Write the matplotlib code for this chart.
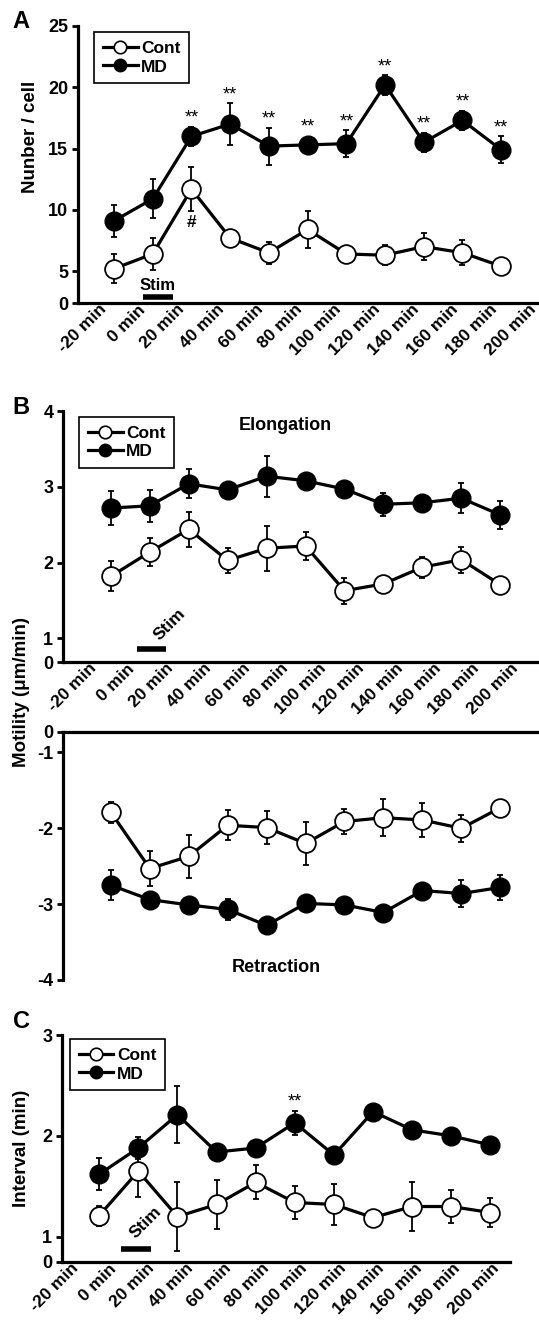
import numpy as np
import matplotlib
matplotlib.use("Agg")
import matplotlib.pyplot as plt
from matplotlib.lines import Line2D

plt.rcParams['font.family'] = ['Liberation Sans', 'DejaVu Sans']
plt.rcParams['font.weight'] = 'bold'

# x tick labels shared by all panels
time_labels = ["-20 min", "0 min", "20 min", "40 min", "60 min", "80 min",
               "100 min", "120 min", "140 min", "160 min", "180 min", "200 min"]

# Panel A: number / cell
a_cont = [5.2, 6.4, 11.7, 7.7, 6.5, 8.4, 6.4, 6.3, 7.0, 6.5, 5.4]
a_cont_err = [1.2, 1.3, 1.8, 0.3, 0.9, 1.5, 0.3, 0.8, 1.1, 1.0, 0.3]
a_md = [9.1, 10.9, 16.0, 17.0, 15.2, 15.3, 15.4, 20.2, 15.5, 17.3, 14.9]
a_md_err = [1.3, 1.6, 0.8, 1.7, 1.5, 0.3, 1.1, 0.8, 0.8, 0.8, 1.1]
a_stars = [2, 3, 4, 5, 6, 7, 8, 9, 10]

# Panel B: elongation (top) and retraction (bottom), um/min
b_el_cont = [1.82, 2.14, 2.44, 2.03, 2.19, 2.22, 1.63, 1.72, 1.94, 2.04, 1.71]
b_el_cont_err = [0.20, 0.19, 0.23, 0.16, 0.30, 0.19, 0.17, 0.05, 0.14, 0.17, 0.05]
b_el_md = [2.72, 2.75, 3.04, 2.96, 3.14, 3.08, 2.97, 2.77, 2.79, 2.85, 2.63]
b_el_md_err = [0.22, 0.21, 0.19, 0.10, 0.27, 0.05, 0.05, 0.15, 0.05, 0.20, 0.18]

b_re_cont = [-1.79, -2.53, -2.37, -1.96, -1.99, -2.20, -1.91, -1.86, -1.89, -2.00, -1.73]
b_re_cont_err = [0.14, 0.23, 0.28, 0.20, 0.22, 0.28, 0.17, 0.24, 0.23, 0.18, 0.05]
b_re_md = [-2.75, -2.94, -3.01, -3.07, -3.28, -2.99, -3.01, -3.11, -2.82, -2.86, -2.78]
b_re_md_err = [0.20, 0.05, 0.10, 0.14, 0.05, 0.05, 0.05, 0.05, 0.05, 0.18, 0.16]

# Panel C: interval (min)
c_cont = [1.21, 1.65, 1.20, 1.32, 1.54, 1.34, 1.32, 1.19, 1.30, 1.30, 1.24]
c_cont_err = [0.10, 0.26, 0.34, 0.24, 0.17, 0.16, 0.20, 0.05, 0.24, 0.16, 0.14]
c_md = [1.62, 1.88, 2.21, 1.84, 1.88, 2.13, 1.81, 2.24, 2.06, 2.00, 1.91]
c_md_err = [0.16, 0.11, 0.28, 0.03, 0.03, 0.12, 0.05, 0.05, 0.05, 0.07, 0.07]
c_stars = [5]

W, H = 539, 1325
fig = plt.figure(figsize=(W / 100, H / 100), dpi=100)


def px_axes(left, top, right, bottom):
    return fig.add_axes([left / W, 1 - bottom / H, (right - left) / W, (bottom - top) / H])


def draw_series(ax, cont, cont_err, md, md_err):
    x = np.arange(len(cont))
    for y, e in ((md, md_err), (cont, cont_err)):
        ax.errorbar(x, y, yerr=e, fmt='none', ecolor='black', elinewidth=1.3,
                    capsize=2.2, capthick=1.3, zorder=2)
    ax.plot(x, md, '-o', color='black', lw=2.3, ms=13.5, mfc='black',
            mec='black', zorder=3)
    ax.plot(x, cont, '-o', color='black', lw=2.3, ms=13.5, mfc='white',
            mec='black', mew=1.3, zorder=4)


def style_axes(ax, ylim, ticks, ticklabels, xlim):
    ax.set_xlim(*xlim)
    ax.set_ylim(*ylim)
    ax.set_yticks(ticks)
    ax.set_yticklabels(ticklabels)
    for s in ['top', 'right']:
        ax.spines[s].set_visible(False)
    for s in ['left', 'bottom']:
        ax.spines[s].set_linewidth(2.3)
    ax.tick_params(axis='y', direction='out', length=4, width=2, labelsize=13, pad=3)
    ax.tick_params(axis='x', length=0, labelsize=12.5, pad=3)
    for t in ax.get_yticklabels():
        t.set_fontweight('bold')


def set_xlabels(ax, positions):
    ax.set_xticks(positions)
    ax.set_xticklabels(time_labels, rotation=45, ha='right', va='center',
                       rotation_mode='anchor', fontweight='bold')


def add_legend(ax, anchor):
    h = [Line2D([], [], color='black', lw=2.3, marker='o', ms=9, mfc='white',
                mec='black', mew=1.2),
         Line2D([], [], color='black', lw=2.3, marker='o', ms=9, mfc='black',
                mec='black')]
    leg = ax.legend(h, ['Cont', 'MD'], loc='upper left', bbox_to_anchor=anchor,
                    borderaxespad=0, frameon=True, fancybox=False, framealpha=1,
                    edgecolor='black', handlelength=2.0, handletextpad=0.2,
                    borderpad=0.5, labelspacing=0.2,
                    prop={'weight': 'bold', 'size': 12.5})
    leg.get_frame().set_linewidth(1.2)


# ---------- Panel A ----------
axA = px_axes(78, 26, 538, 303)
draw_series(axA, a_cont, a_cont_err, a_md, a_md_err)
style_axes(axA, (2.4, 25), [2.4, 5, 10, 15, 20, 25], ['0', '5', '10', '15', '20', '25'],
           (-0.93, 10.95))
set_xlabels(axA, np.linspace(-0.25, 10.83, 12))
add_legend(axA, (0.035, 0.978))
for i in a_stars:
    axA.annotate('**', (i, a_md[i] + max(a_md_err[i], 0.75)), xytext=(0, 0),
                 textcoords='offset points', ha='center', va='bottom',
                 fontsize=13, fontweight='normal')
axA.annotate('#', (2, a_cont[2] - a_cont_err[2]), xytext=(0, -3),
             textcoords='offset points', ha='center', va='top', fontsize=12.5)
axA.plot([0.75, 1.52], [2.85, 2.85], color='black', lw=4, solid_capstyle='butt')
axA.text(1.13, 3.2, 'Stim', ha='center', va='bottom', fontsize=12, fontweight='bold')
axA.set_ylabel('Nunber / cell', fontsize=13.5, fontweight='bold')
axA.yaxis.set_label_coords(-0.085, 0.6)

# ---------- Panel B (elongation) ----------
axB = px_axes(63, 411, 538, 662)
draw_series(axB, b_el_cont, b_el_cont_err, b_el_md, b_el_md_err)
style_axes(axB, (0.69, 4), [0.69, 1, 2, 3, 4], ['0', '1', '2', '3', '4'], (-1.23, 10.97))
set_xlabels(axB, np.linspace(-0.43, 10.39, 12))
add_legend(axB, (0.034, 0.976))
axB.text(0.469, 0.944, 'Elongation', transform=axB.transAxes, ha='center',
         va='center', fontsize=13, fontweight='bold')
axB.plot([0.67, 1.41], [0.86, 0.86], color='black', lw=4, solid_capstyle='butt')
axB.text(1.5, 1.19, 'Stim', ha='center', va='center', rotation=45, fontsize=12.5,
         fontweight='bold')

# ---------- Panel B (retraction) ----------
axR = px_axes(63, 732, 538, 980)
draw_series(axR, b_re_cont, b_re_cont_err, b_re_md, b_re_md_err)
style_axes(axR, (-4, -0.73), [-4, -3, -2, -1, -0.73], ['-4', '-3', '-2', '-1', '0'],
           (-1.23, 10.97))
axR.spines['bottom'].set_visible(False)
axR.spines['top'].set_visible(True)
axR.spines['top'].set_linewidth(2.3)
axR.set_xticks([])
axR.text(0.45, 0.052, 'Retraction', transform=axR.transAxes, ha='center',
         va='center', fontsize=13, fontweight='bold')

fig.text(22 / W, 1 - 692 / H, 'Motility (\u03bcm/min)', rotation=90, ha='center',
         va='center', fontsize=13.5, fontweight='bold')

# ---------- Panel C ----------
axC = px_axes(62, 1035, 510, 1262)
draw_series(axC, c_cont, c_cont_err, c_md, c_md_err)
style_axes(axC, (0.75, 3), [0.75, 1, 2, 3], ['0', '1', '2', '3'], (-0.95, 10.5))
set_xlabels(axC, np.linspace(-0.6, 10.15, 12))
add_legend(axC, (0.018, 0.982))
for i in c_stars:
    axC.annotate('**', (i, c_md[i] + max(c_md_err[i], 0.09)), xytext=(0, 0),
                 textcoords='offset points', ha='center', va='bottom',
                 fontsize=13, fontweight='normal')
axC.plot([0.56, 1.33], [0.88, 0.88], color='black', lw=4, solid_capstyle='butt')
axC.text(1.2, 1.14, 'Stim', ha='center', va='center', rotation=45, fontsize=12.5,
         fontweight='bold')
fig.text(22 / W, 1 - 1148 / H, 'Interval (min)', rotation=90, ha='center',
         va='center', fontsize=13.5, fontweight='bold')

# panel letters
for letter, y in (('A', 22), ('B', 408), ('C', 1022)):
    fig.text(21 / W, 1 - y / H, letter, ha='center', va='center', fontsize=17,
             fontweight='bold')

fig.savefig('out.png', dpi=100)
